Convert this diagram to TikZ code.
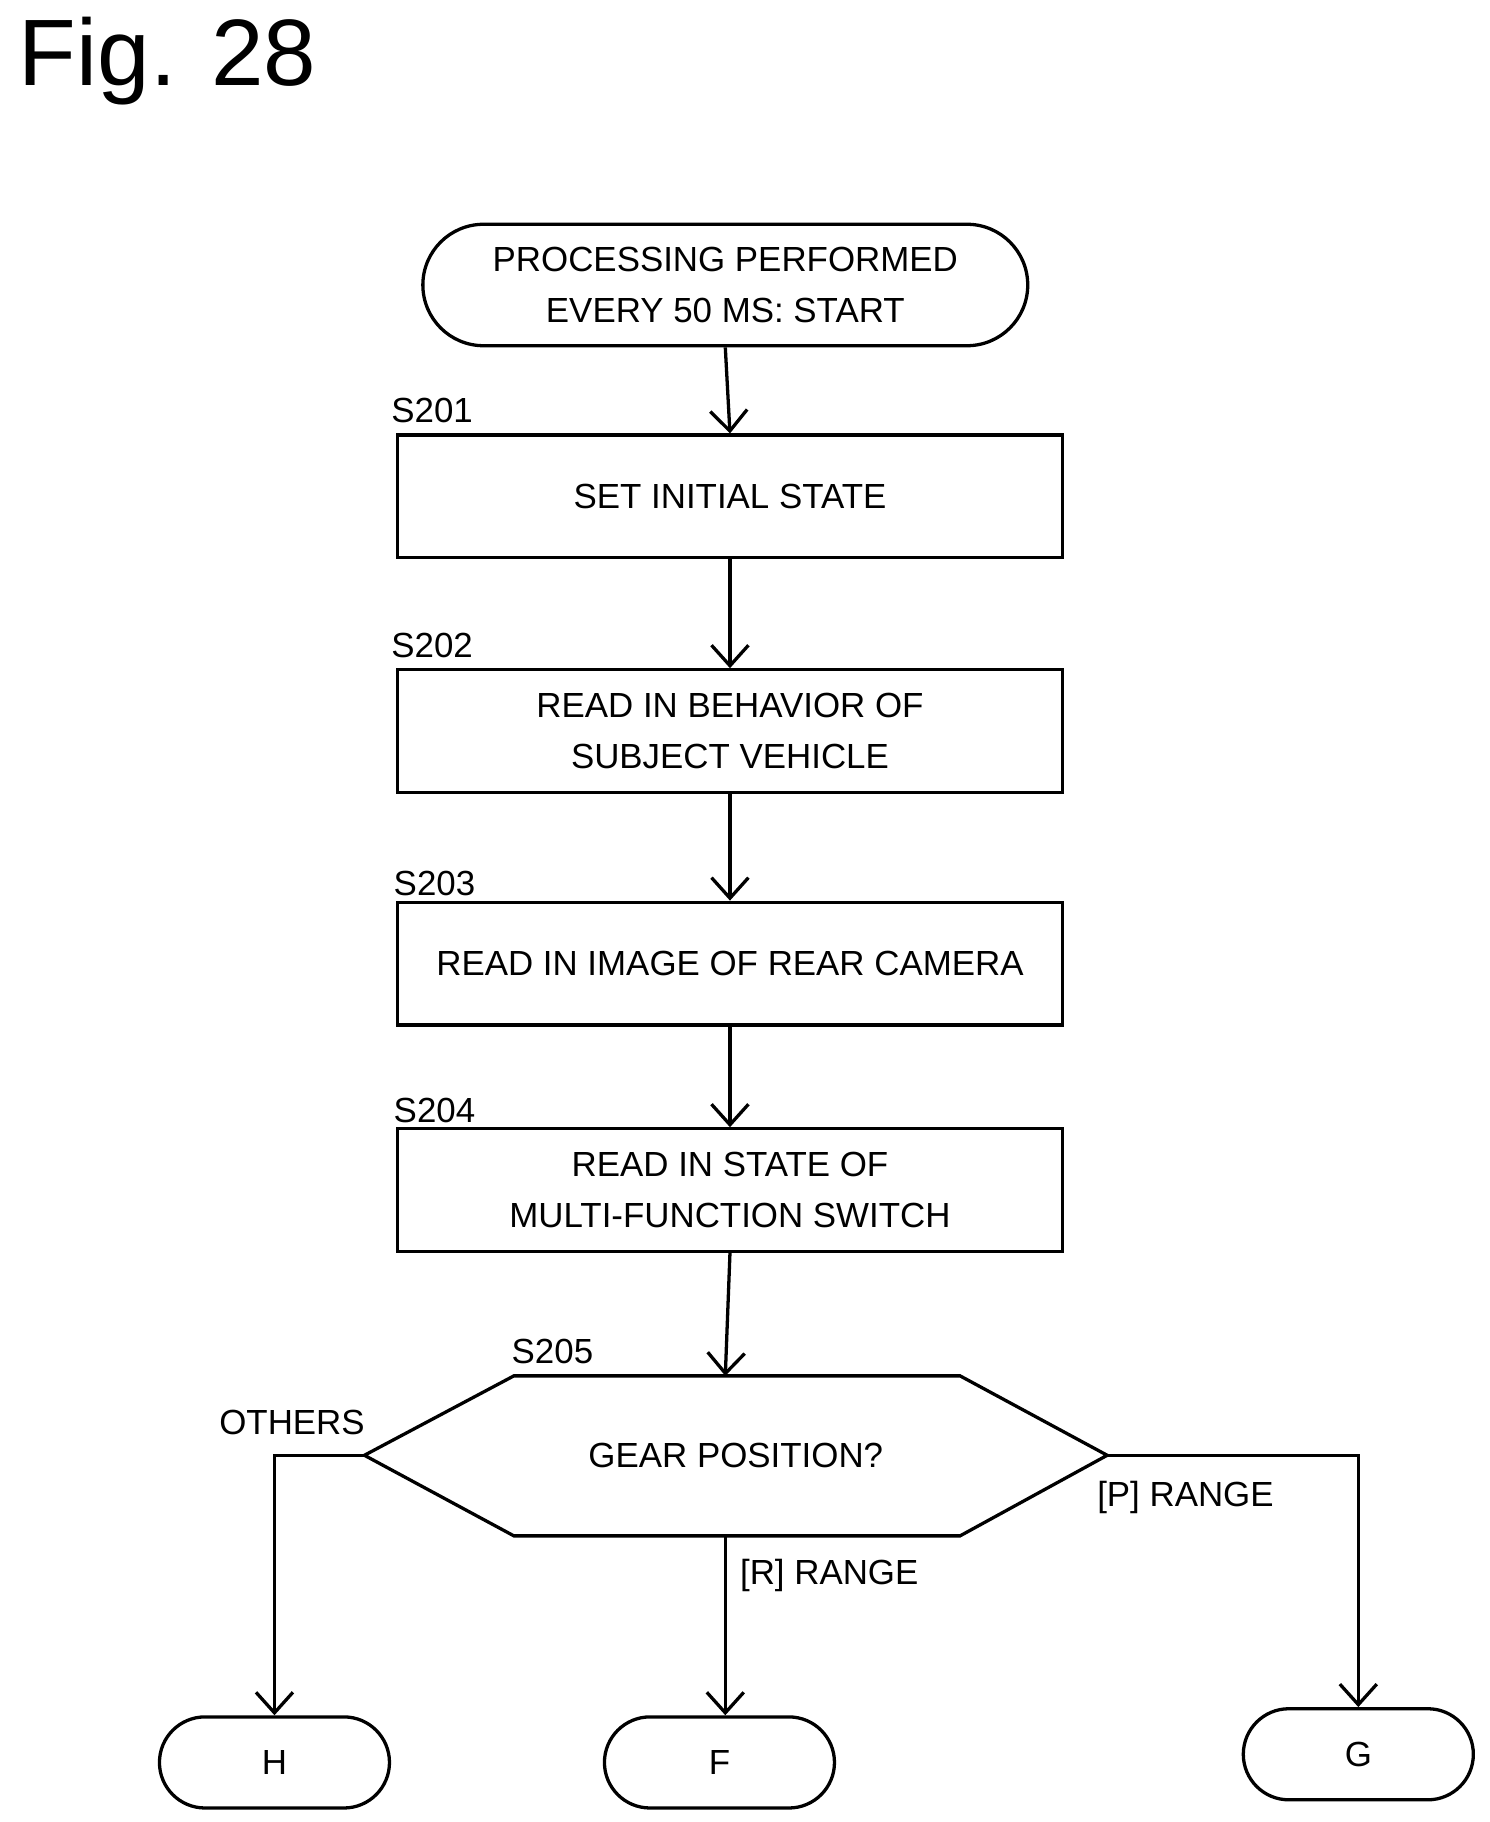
\documentclass[tikz,border=0pt]{standalone}
\usepackage{fontspec}
\setmainfont{Liberation Sans}
\usetikzlibrary{arrows.meta,shapes.misc}
\begin{document}
\begin{tikzpicture}[x=0.02cm,y=-0.02cm,
	font=\fontsize{17}{25}\selectfont,
	box/.style={draw,line width=1.6pt,minimum width=11.4cm,minimum height=2.1cm,align=center,inner sep=0pt},
	term/.style={draw,line width=1.6pt,rounded rectangle,align=center,inner sep=0pt},
	steplabel/.style={anchor=base},
	flow/.style={line width=1.6pt,-{Straight Barb[length=10pt,width=18pt,line width=1.6pt]}}]
	\useasboundingbox (0,0) rectangle (1275,1560);
	\node[anchor=north west,font=\fontsize{46}{50}\selectfont] (fig) at (10,8) {Fig. 28};
	
	\node[term,minimum width=10.36cm,minimum height=2.08cm] (start) at (621,244) {PROCESSING PERFORMED\\EVERY 50 MS: START};
	
	\node[box] (s201) at (625,425) {SET INITIAL STATE};
	\node[steplabel] (l201) at (370,362) {S201};
	\node[box] (s202) at (625,626) {READ IN BEHAVIOR OF\\SUBJECT VEHICLE};
	\node[steplabel] (l202) at (370,563) {S202};
	\node[box] (s203) at (625,825) {READ IN IMAGE OF REAR CAMERA};
	\node[steplabel] (l203) at (372,767) {S203};
	\node[box] (s204) at (625,1019) {READ IN STATE OF\\MULTI-FUNCTION SWITCH};
	\node[steplabel] (l204) at (372,961) {S204};
	
	% decision
	\coordinate (hw) at (312,1246);
	\coordinate (he) at (948,1246);
	\coordinate (hn) at (621,1178);
	\coordinate (hs) at (621,1315);
	\draw[line width=1.6pt] (hw) -- (440,1178) -- (822,1178) -- (he) -- (822,1315) -- (440,1315) -- cycle;
	\node (s205) at (630,1246) {GEAR POSITION?};
	\node[steplabel] (l205) at (473,1167) {S205};
	
	\node[term,minimum width=3.94cm,minimum height=1.56cm] (H) at (235,1509) {H};
	\node[term,minimum width=3.94cm,minimum height=1.56cm] (F) at (616,1509) {F};
	\node[term,minimum width=3.94cm,minimum height=1.56cm] (G) at (1163,1502) {G};
	
	\draw[flow] (start.south) -- (s201.north);
	\draw[flow] (s201.south) -- (s202.north);
	\draw[flow] (s202.south) -- (s203.north);
	\draw[flow] (s203.south) -- (s204.north);
	\draw[flow] (s204.south) -- (hn);
	\draw[flow] (hw) -| (H.north);
	\draw[flow] (hs) -- (F.north -| hs);
	\draw[flow] (he) -| (G.north);
	
	\node[steplabel] (others) at (250,1228) {OTHERS};
	\node[steplabel] (rrange) at (710,1357) {[R] RANGE};
	\node[steplabel] (prange) at (1015,1290) {[P] RANGE};
\end{tikzpicture}
\end{document}
